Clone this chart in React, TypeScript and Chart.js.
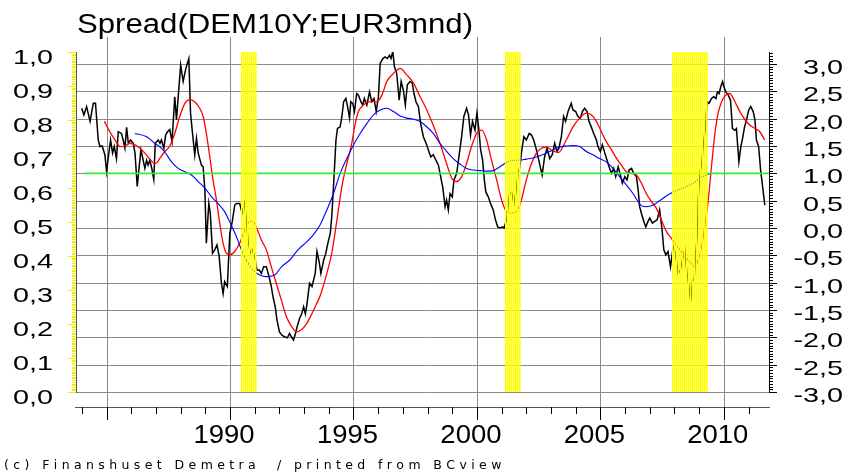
import React, { useEffect, useRef } from "react";
import { Chart, registerables } from "chart.js";

Chart.register(...registerables);

const TITLE = "Spread(DEM10Y;EUR3mnd)";
const FOOTER = "(c) Finanshuset Demetra  / printed from BCview";

// Black: the spread series (right axis)
const spreadYears = [
  1983.99, 1984.08, 1984.19, 1984.33, 1984.46, 1984.55, 1984.66, 1984.73, 1984.82, 1984.93,
  1985.0, 1985.07, 1985.16, 1985.24, 1985.31, 1985.4, 1985.47, 1985.6, 1985.67, 1985.74,
  1985.81, 1985.88, 1985.97, 1986.08, 1986.15, 1986.24, 1986.32, 1986.39, 1986.48, 1986.55,
  1986.62, 1986.68, 1986.75, 1986.83, 1986.91, 1986.97, 1987.09, 1987.16, 1987.22, 1987.32,
  1987.39, 1987.47, 1987.56, 1987.65, 1987.76, 1987.83, 1987.9, 1988.0, 1988.1, 1988.21,
  1988.33, 1988.4, 1988.48, 1988.57, 1988.64, 1988.71, 1988.77, 1988.84, 1988.91, 1988.98,
  1989.04, 1989.14, 1989.2, 1989.29, 1989.38, 1989.47, 1989.56, 1989.65, 1989.72, 1989.78,
  1989.89, 1989.99, 1990.09, 1990.19, 1990.26, 1990.39, 1990.49, 1990.59, 1990.66, 1990.73,
  1990.82, 1990.9, 1991.0, 1991.09, 1991.18, 1991.27, 1991.36, 1991.47, 1991.58, 1991.67,
  1991.74, 1991.83, 1991.9, 1992.0, 1992.1, 1992.21, 1992.32, 1992.41, 1992.48, 1992.57,
  1992.65, 1992.72, 1992.82, 1992.91, 1992.98, 1993.05, 1993.11, 1993.22, 1993.32, 1993.45,
  1993.52, 1993.61, 1993.68, 1993.79, 1993.88, 1993.96, 1994.06, 1994.12, 1994.19, 1994.29,
  1994.35, 1994.46, 1994.53, 1994.6, 1994.69, 1994.76, 1994.84, 1994.89, 1994.97, 1995.04,
  1995.13, 1995.2, 1995.3, 1995.37, 1995.44, 1995.54, 1995.65, 1995.74, 1995.83, 1995.92,
  1996.01, 1996.08, 1996.19, 1996.28, 1996.37, 1996.46, 1996.52, 1996.59, 1996.66, 1996.75,
  1996.85, 1996.93, 1997.02, 1997.1, 1997.18, 1997.29, 1997.38, 1997.45, 1997.53, 1997.63,
  1997.72, 1997.83, 1997.94, 1998.03, 1998.13, 1998.23, 1998.34, 1998.44, 1998.53, 1998.61,
  1998.71, 1998.77, 1998.84, 1998.91, 1999.0, 1999.07, 1999.18, 1999.29, 1999.38, 1999.47,
  1999.58, 1999.66, 1999.74, 1999.82, 1999.92, 2000.0, 2000.08, 2000.15, 2000.23, 2000.3,
  2000.36, 2000.46, 2000.55, 2000.66, 2000.75, 2000.84, 2000.93, 2001.04, 2001.1, 2001.2,
  2001.31, 2001.4, 2001.5, 2001.58, 2001.67, 2001.74, 2001.8, 2001.9, 2002.0, 2002.12,
  2002.21, 2002.3, 2002.41, 2002.52, 2002.64, 2002.74, 2002.84, 2002.95, 2003.05, 2003.15,
  2003.24, 2003.32, 2003.42, 2003.51, 2003.59, 2003.69, 2003.82, 2003.89, 2004.0, 2004.09,
  2004.19, 2004.27, 2004.36, 2004.46, 2004.54, 2004.63, 2004.73, 2004.84, 2004.9, 2005.0,
  2005.08, 2005.18, 2005.27, 2005.35, 2005.45, 2005.54, 2005.62, 2005.72, 2005.81, 2005.89,
  2005.99, 2006.08, 2006.16, 2006.26, 2006.35, 2006.46, 2006.53, 2006.59, 2006.66, 2006.76,
  2006.84, 2006.93, 2007.0, 2007.11, 2007.2, 2007.3, 2007.4, 2007.5, 2007.57, 2007.65,
  2007.74, 2007.84, 2007.95, 2008.04, 2008.15, 2008.24, 2008.32, 2008.42, 2008.51, 2008.59,
  2008.66, 2008.73, 2008.8, 2008.86, 2008.92, 2008.96, 2009.03, 2009.11, 2009.16, 2009.26,
  2009.32, 2009.4, 2009.5, 2009.59, 2009.68, 2009.74, 2009.81, 2009.88, 2009.95, 2010.0,
  2010.08, 2010.18, 2010.27, 2010.35, 2010.45, 2010.51, 2010.61, 2010.69, 2010.76, 2010.84,
  2010.92, 2011.01, 2011.09, 2011.19, 2011.26, 2011.32, 2011.41, 2011.49, 2011.57, 2011.66,
];
const spreadValues = [
  2.19, 2.07, 2.22, 1.95, 2.28, 2.28, 1.61, 1.49, 1.5, 1.34,
  1.03, 1.3, 1.61, 1.37, 1.49, 1.27, 1.76, 1.73, 1.61, 1.46,
  1.84, 1.55, 1.61, 1.55, 1.37, 0.76, 1.12, 1.43, 1.24, 1.09,
  1.24, 1.15, 1.24, 1.09, 0.89, 1.55, 1.61, 1.55, 1.61, 1.46,
  1.7, 1.76, 1.8, 1.58, 2.4, 1.98, 2.4, 2.98, 2.68, 2.92,
  3.1, 2.1, 1.73, 1.34, 1.64, 1.37, 1.27, 1.15, 1.12, 0.7,
  -0.28, 0.45, 0.27, -0.46, -0.4, -0.31, -0.52, -1.01, -1.2, -0.98,
  -1.07, -0.1, 0.12, 0.42, 0.45, 0.45, 0.27, 0.45, 0.15, -0.22,
  -0.46, -0.4, -0.52, -0.77, -0.77, -0.83, -0.71, -0.71, -0.89, -1.07,
  -1.26, -1.44, -1.68, -1.9, -1.96, -1.99, -2.01, -1.93, -1.99, -2.05,
  -1.93, -1.8, -1.65, -1.56, -1.44, -1.57, -1.41, -1.01, -1.07, -0.83,
  -0.43, -0.62, -0.83, -0.59, -0.46, -0.28, -0.1, 0.21, 0.76, 1.61,
  1.82, 1.85, 2.04, 2.31, 2.37, 2.22, 2.01, 2.31, 2.28, 2.13,
  2.46, 2.43, 2.31, 2.25, 2.37, 2.25, 2.49, 2.31, 2.37, 2.13,
  2.4, 3.01, 3.1, 3.13, 3.1, 3.16, 3.1, 3.23, 2.95, 2.83,
  2.34, 2.68, 2.52, 2.25, 2.62, 2.68, 2.65, 2.46, 2.31, 2.22,
  1.91, 1.67, 1.55, 1.43, 1.3, 1.34, 1.24, 1.15, 0.94, 0.76,
  0.39, 0.51, 0.33, 0.63, 0.57, 0.88, 1.0, 1.37, 1.67, 2.04,
  2.19, 2.07, 1.7, 1.95, 1.79, 2.1, 1.79, 1.43, 1.24, 0.88,
  0.66, 0.57, 0.45, 0.33, 0.15, 0.02, 0.0, 0.02, 0.0, 0.15,
  0.6, 0.66, 0.45, 0.66, 1.0, 1.12, 1.37, 1.67, 1.61, 1.73,
  1.7, 1.61, 1.43, 1.21, 0.97, 1.3, 1.46, 1.27, 1.34, 1.55,
  1.4, 1.46, 1.67, 2.04, 1.95, 2.13, 2.28, 2.16, 2.13, 2.04,
  2.01, 2.13, 2.19, 2.13, 1.95, 1.85, 1.73, 1.61, 1.49, 1.4,
  1.52, 1.37, 1.24, 1.12, 1.0, 1.09, 0.94, 1.12, 0.97, 0.82,
  0.94, 0.88, 1.06, 1.09, 1.0, 0.94, 0.7, 0.39, 0.27, 0.12,
  0.02, 0.12, 0.18, 0.09, 0.12, 0.15, 0.33, -0.04, -0.4, -0.49,
  -0.43, -0.71, -0.34, -0.46, -0.83, -0.77, -0.59, -0.4, -0.83, -1.07,
  -1.35, -0.95, -0.95, -0.46, -0.16, 0.51, 1.0, 1.18, 1.49, 1.85,
  2.31, 2.28, 2.37, 2.4, 2.37, 2.49, 2.46, 2.59, 2.68, 2.59,
  2.49, 2.43, 2.34, 1.82, 1.79, 1.82, 1.21, 1.49, 1.64, 1.85,
  1.98, 2.16, 2.22, 2.13, 1.98, 1.61, 1.49, 1.06, 0.76, 0.42,
];

// Red: short moving average
const shortAvgYears = [
  1984.91, 1985.13, 1985.34, 1985.54, 1985.74, 1985.94, 1986.15, 1986.35, 1986.55, 1986.75,
  1986.95, 1987.05, 1987.16, 1987.36, 1987.56, 1987.76, 1987.96, 1988.17, 1988.37, 1988.57,
  1988.77, 1988.91, 1989.04, 1989.18, 1989.31, 1989.45, 1989.58, 1989.72, 1989.85, 1989.99,
  1990.19, 1990.39, 1990.59, 1990.8, 1990.93, 1991.06, 1991.27, 1991.47, 1991.67, 1991.87,
  1992.08, 1992.28, 1992.49, 1992.69, 1992.89, 1993.09, 1993.29, 1993.49, 1993.65, 1993.92,
  1994.12, 1994.33, 1994.53, 1994.73, 1994.93, 1995.07, 1995.2, 1995.4, 1995.67, 1995.94,
  1996.15, 1996.35, 1996.62, 1996.89, 1997.16, 1997.43, 1997.7, 1997.97, 1998.23, 1998.5,
  1998.77, 1998.98, 1999.18, 1999.38, 1999.58, 1999.78, 1999.99, 2000.19, 2000.39, 2000.59,
  2000.8, 2001.0, 2001.2, 2001.4, 2001.6, 2001.8, 2002.0, 2002.21, 2002.41, 2002.61,
  2002.81, 2003.05, 2003.3, 2003.62, 2003.89, 2004.16, 2004.43, 2004.63, 2004.84, 2005.04,
  2005.24, 2005.45, 2005.66, 2005.85, 2006.05, 2006.26, 2006.46, 2006.66, 2006.86, 2007.07,
  2007.27, 2007.47, 2007.68, 2007.88, 2008.08, 2008.28, 2008.49, 2008.69, 2008.82, 2008.96,
  2009.1, 2009.23, 2009.37, 2009.5, 2009.64, 2009.77, 2009.91, 2010.08, 2010.24, 2010.45,
  2010.65, 2010.86, 2011.06, 2011.26, 2011.46, 2011.66,
];
const shortAvgValues = [
  1.95, 1.76, 1.61, 1.49, 1.5, 1.55, 1.52, 1.46, 1.37, 1.26,
  1.18, 1.2, 1.28, 1.4, 1.5, 1.73, 2.04, 2.28, 2.35, 2.31,
  2.19, 2.04, 1.73, 1.3, 0.88, 0.51, 0.09, -0.28, -0.46, -0.49,
  -0.43, -0.28, -0.04, 0.12, 0.12, 0.02, -0.22, -0.4, -0.71, -1.01,
  -1.32, -1.62, -1.8, -1.9, -1.86, -1.76, -1.59, -1.4, -1.24, -0.83,
  -0.46, 0.15, 0.76, 1.18, 1.55, 1.91, 2.13, 2.25, 2.31, 2.31,
  2.43, 2.68, 2.83, 2.92, 2.8, 2.65, 2.4, 2.16, 1.88, 1.55,
  1.18, 0.91, 0.85, 0.94, 1.18, 1.49, 1.73, 1.79, 1.61, 1.24,
  0.88, 0.51, 0.3, 0.27, 0.3, 0.51, 0.88, 1.18, 1.37, 1.46,
  1.48, 1.42, 1.38, 1.61, 1.85, 2.01, 2.1, 2.07, 1.95, 1.76,
  1.58, 1.43, 1.27, 1.15, 1.03, 1.0, 0.97, 0.82, 0.63, 0.48,
  0.36, 0.15, -0.07, -0.19, -0.31, -0.43, -0.55, -0.65, -0.71, -0.59,
  -0.34, 0.03, 0.51, 1.12, 1.73, 2.1, 2.31, 2.43, 2.46, 2.31,
  2.13, 1.98, 1.88, 1.82, 1.76, 1.61,
];

// Blue: long moving average
const longAvgYears = [
  1986.15, 1986.62, 1986.95, 1987.29, 1987.63, 1987.9, 1988.17, 1988.44, 1988.71, 1988.98,
  1989.25, 1989.51, 1989.78, 1990.05, 1990.26, 1990.46, 1990.66, 1990.93, 1991.2, 1991.47,
  1991.81, 1992.08, 1992.41, 1992.75, 1993.09, 1993.38, 1993.65, 1993.92, 1994.19, 1994.46,
  1994.73, 1995.0, 1995.27, 1995.54, 1995.81, 1996.08, 1996.35, 1996.62, 1996.89, 1997.16,
  1997.43, 1997.7, 1997.97, 1998.23, 1998.5, 1998.77, 1999.04, 1999.31, 1999.58, 1999.85,
  2000.12, 2000.39, 2000.66, 2000.93, 2001.2, 2001.47, 2001.74, 2002.0, 2002.28, 2002.55,
  2002.95, 2003.35, 2003.62, 2003.89, 2004.16, 2004.43, 2004.7, 2004.97, 2005.24, 2005.51,
  2005.78, 2006.05, 2006.32, 2006.53, 2006.66, 2006.86, 2007.14, 2007.4, 2007.68, 2007.95,
  2008.22, 2008.49, 2008.76, 2009.03, 2009.3, 2009.46,
];
const longAvgValues = [
  1.73, 1.67, 1.55, 1.43, 1.21, 1.09, 1.03, 0.97, 0.85, 0.73,
  0.57, 0.45, 0.3, 0.05, -0.16, -0.4, -0.59, -0.77, -0.86, -0.89,
  -0.86, -0.71, -0.59, -0.4, -0.26, -0.12, 0.06, 0.33, 0.63, 1.0,
  1.27, 1.52, 1.73, 1.91, 2.07, 2.16, 2.19, 2.13, 2.05, 2.01,
  1.99, 1.95, 1.85, 1.73, 1.55, 1.4, 1.27, 1.17, 1.09, 1.06,
  1.05, 1.04, 1.05, 1.12, 1.2, 1.24, 1.24, 1.26, 1.28, 1.32,
  1.4, 1.48, 1.5, 1.51, 1.49, 1.4, 1.34, 1.27, 1.21, 1.09,
  0.94, 0.79, 0.63, 0.48, 0.41, 0.39, 0.42, 0.5, 0.59, 0.66,
  0.71, 0.76, 0.82, 0.91, 0.97, 1.0,
];

// Green: reference level
const levelYears = [1984.1, 2011.83];
const levelValues = [1.0, 1.0];

// Yellow shaded periods
const bandStarts = [1990.46, 2001.13, 2007.9];
const bandEnds = [1991.09, 2001.77, 2009.36];

// Axis ticks
const yearLabels = [1990, 1995, 2000, 2005, 2010];
const majorYears = [1985, 1990, 1995, 2000, 2005, 2010];
const leftTicks = [0, 0.1, 0.2, 0.3, 0.4, 0.5, 0.6, 0.7, 0.8, 0.9, 1.0];
const rightTicks = [-3, -2.5, -2, -1.5, -1, -0.5, 0, 0.5, 1, 1.5, 2, 2.5, 3];

const X_MIN = 1983.76;
const X_MAX = 2011.83;

function pts(xs: number[], ys: number[]) {
  return xs.map((x, i) => ({ x, y: ys[i] }));
}

function fmt(v: number) {
  return v.toFixed(1).replace(".", ",");
}

function drawStretched(
  ctx: CanvasRenderingContext2D,
  text: string,
  x: number,
  y: number,
  sx: number,
  align: CanvasTextAlign
) {
  ctx.save();
  ctx.translate(x, y);
  ctx.scale(sx, 1);
  ctx.textAlign = align;
  ctx.textBaseline = "alphabetic";
  ctx.fillText(text, 0, 0);
  ctx.restore();
}

const bcviewPlugin = {
  id: "bcview",
  beforeDatasetsDraw(chart: any) {
    const ctx: CanvasRenderingContext2D = chart.ctx;
    const xs = chart.scales.x;
    const yr = chart.scales.y;
    const area = chart.chartArea;
    ctx.save();
    ctx.strokeStyle = "#8a8a8a";
    ctx.lineWidth = 1;
    ctx.beginPath();
    for (const v of rightTicks) {
      const y = Math.round(yr.getPixelForValue(v)) + 0.5;
      ctx.moveTo(area.left, y);
      ctx.lineTo(area.right + 8, y);
    }
    for (const yv of majorYears) {
      const x = Math.round(xs.getPixelForValue(yv)) + 0.5;
      ctx.moveTo(x, 37);
      ctx.lineTo(x, 407);
    }
    ctx.stroke();
    ctx.restore();
  },
  afterDatasetsDraw(chart: any) {
    const ctx: CanvasRenderingContext2D = chart.ctx;
    const xs = chart.scales.x;
    const yr = chart.scales.y;
    const yl = chart.scales.yL;
    const area = chart.chartArea;
    const top = area.top;
    const h = area.bottom - area.top;

    ctx.save();
    // Yellow striped bands
    for (let i = 0; i < bandStarts.length; i++) {
      const x0 = Math.round(xs.getPixelForValue(bandStarts[i]));
      const x1 = Math.round(xs.getPixelForValue(bandEnds[i]));
      ctx.fillStyle = "rgba(255,255,0,0.6)";
      ctx.fillRect(x0, top, x1 - x0, h);
      ctx.fillStyle = "#ffff00";
      for (let x = x0; x < x1; x += 2) {
        ctx.fillRect(x, top, 1, h);
      }
    }

    // Left axis: yellow ticks
    ctx.fillStyle = "#f2f200";
    for (let k = 0; k <= 200; k++) {
      const y = Math.round(yl.getPixelForValue(k * 0.005));
      ctx.fillRect(area.left - 4, y, 4, 1);
    }
    for (const v of leftTicks) {
      const y = Math.round(yl.getPixelForValue(v));
      ctx.fillRect(area.left - 8, y, 8, 1);
    }
    ctx.fillStyle = "#555555";
    ctx.fillRect(area.left, top, 1, h + 1);

    // Right axis
    ctx.fillStyle = "#000000";
    ctx.fillRect(area.right, top, 1, h + 1);
    for (let k = 0; k <= 124; k++) {
      const v = -3 + k * 0.05;
      if (v > 3.22) break;
      const y = Math.round(yr.getPixelForValue(v));
      ctx.fillRect(area.right, y, 4, 1);
    }
    for (const v of rightTicks) {
      const y = Math.round(yr.getPixelForValue(v));
      ctx.fillRect(area.right, y, 8, 1);
    }

    // Bottom axis (detached)
    ctx.fillStyle = "#555555";
    ctx.fillRect(area.left - 1, 407, area.right - area.left + 2, 1);
    ctx.fillStyle = "#000000";
    for (let yv = 1984; yv <= 2011; yv++) {
      const x = Math.round(xs.getPixelForValue(yv));
      if (yv % 5 === 0) ctx.fillRect(x, 407, 1, 13);
      else ctx.fillRect(x, 407, 1, 7);
    }

    // Axis labels
    ctx.fillStyle = "#000000";
    ctx.font = '21px "Liberation Sans", Arial, sans-serif';
    for (const v of leftTicks) {
      drawStretched(ctx, fmt(v), 53, yl.getPixelForValue(v) + 11.5, 1.37, "right");
    }
    for (const v of rightTicks) {
      drawStretched(ctx, fmt(v), 843, yr.getPixelForValue(v) + 10, 1.37, "right");
    }
    ctx.font = '25px "Liberation Sans", Arial, sans-serif';
    for (const yv of yearLabels) {
      drawStretched(ctx, String(yv), xs.getPixelForValue(yv) - 6, 443, 1.1, "center");
    }

    // Title
    ctx.font = '27px "Liberation Sans", Arial, sans-serif';
    const tw = ctx.measureText(TITLE).width;
    drawStretched(ctx, TITLE, 77, 33, 396 / tw, "left");

    // Footer with letter spacing
    ctx.font = '12.5px "DejaVu Sans", Verdana, sans-serif';
    ctx.textAlign = "left";
    ctx.textBaseline = "alphabetic";
    const chars = FOOTER.split("");
    const natural = ctx.measureText(FOOTER).width;
    const spacing = (496 - natural) / (chars.length - 1);
    let fx = 4;
    for (const c of chars) {
      ctx.fillText(c, fx, 468.5);
      fx += ctx.measureText(c).width + spacing;
    }
    ctx.restore();
  },
};

export default function App() {
  const canvasRef = useRef<HTMLCanvasElement | null>(null);

  useEffect(() => {
    document.body.style.margin = "0";
    const canvas = canvasRef.current;
    if (!canvas) return;
    const chart = new Chart(canvas, {
      type: "line",
      data: {
        datasets: [
          {
            label: "level",
            data: pts(levelYears, levelValues),
            borderColor: "#33ee33",
            borderWidth: 1.8,
            yAxisID: "y",
            pointRadius: 0,
            tension: 0,
          },
          {
            label: "long",
            data: pts(longAvgYears, longAvgValues),
            borderColor: "#0000ff",
            borderWidth: 1.1,
            yAxisID: "y",
            pointRadius: 0,
            tension: 0.4,
            cubicInterpolationMode: "monotone",
          },
          {
            label: "short",
            data: pts(shortAvgYears, shortAvgValues),
            borderColor: "#ff0000",
            borderWidth: 1.3,
            yAxisID: "y",
            pointRadius: 0,
            tension: 0.4,
            cubicInterpolationMode: "monotone",
          },
          {
            label: "spread",
            data: pts(spreadYears, spreadValues),
            borderColor: "#000000",
            borderWidth: 1.5,
            yAxisID: "y",
            pointRadius: 0,
            tension: 0,
          },
        ],
      } as any,
      options: {
        animation: false,
        responsive: false,
        maintainAspectRatio: false,
        layout: { padding: { top: 52, left: 0, right: 0, bottom: 0 } },
        plugins: {
          legend: { display: false },
          tooltip: { enabled: false },
          title: { display: false },
        },
        elements: { point: { radius: 0 } },
        scales: {
          x: {
            type: "linear",
            position: "bottom",
            min: X_MIN,
            max: X_MAX,
            grid: { display: false },
            border: { display: false },
            ticks: { display: false, stepSize: 1 },
            afterFit: (s: any) => {
              s.height = 83;
            },
          },
          yL: {
            type: "linear",
            position: "left",
            min: 0,
            max: 1,
            grid: { display: false },
            border: { display: false },
            ticks: { display: false, stepSize: 0.1 },
            afterFit: (s: any) => {
              s.width = 76;
            },
          },
          y: {
            type: "linear",
            position: "right",
            min: -3,
            max: 3.2195,
            grid: { display: false },
            border: { display: false },
            ticks: { display: false, stepSize: 0.5 },
            afterFit: (s: any) => {
              s.width = 80;
            },
          },
        },
      } as any,
      plugins: [bcviewPlugin],
    });
    return () => chart.destroy();
  }, []);

  return (
    <div style={{ width: 849, height: 475, background: "#ffffff" }}>
      <canvas ref={canvasRef} width={849} height={475} style={{ display: "block" }} />
    </div>
  );
}
